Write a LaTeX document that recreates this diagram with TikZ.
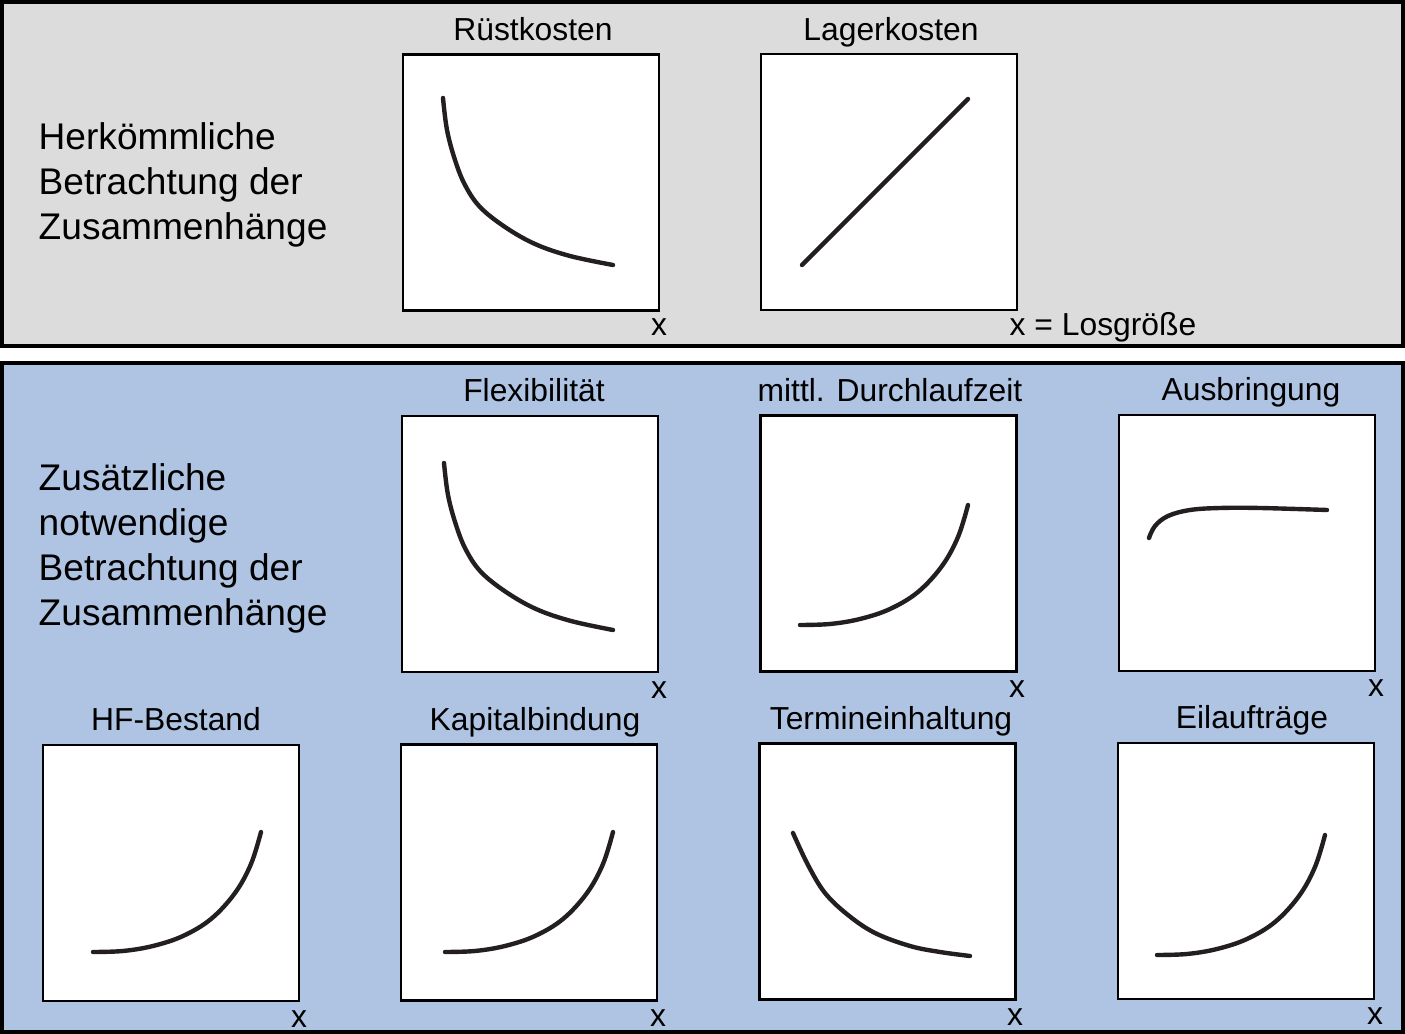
\documentclass[tikz,border=0pt]{standalone}
\usepackage{fontspec}
\setmainfont{Liberation Sans}
\definecolor{panelgray}{HTML}{DCDCDC}
\definecolor{panelblue}{HTML}{AFC3E2}
\definecolor{curveink}{HTML}{231F20}
\begin{document}
\begin{tikzpicture}[x=0.01cm,y=-0.01cm,
  panel/.style={draw=black,line width=1pt},
  plotbox/.style={draw=black,fill=white,line width=0.7pt,minimum width=2.56cm,minimum height=2.56cm,inner sep=0pt,outer sep=0pt},
  curve/.style={draw=curveink,line width=1.25pt,line cap=round,line join=round},
  title/.style={anchor=base,inner sep=0pt,font=\fontsize{9.05}{10.9}\selectfont},
  xlab/.style={anchor=base,inner sep=0pt,font=\fontsize{9.05}{10.9}\selectfont},
  lead/.style={anchor=north west,inner sep=0pt,align=left,font=\fontsize{10.55}{12.8}\selectfont}]
\useasboundingbox (0,0) rectangle (1405,1034);
% panels
\draw[panel,fill=panelgray] (2,2) rectangle (1403,346);
\draw[panel,fill=panelblue] (2,363) rectangle (1403,1032);
% left captions
\node[lead] (top) at (38,122) {Herkömmliche\\Betrachtung der\\Zusammenhänge};
\node[lead] (bot) at (38,463) {Zusätzliche\\notwendige\\Betrachtung der\\Zusammenhänge};
% plot boxes
\node[plotbox] (b1) at (531,182.5) {};
\node[plotbox] (b2) at (889,182) {};
\node[plotbox] (b3) at (530,544) {};
\node[plotbox] (b4) at (888.5,543.5) {};
\node[plotbox] (b5) at (1247,543) {};
\node[plotbox] (b6) at (171,873) {};
\node[plotbox] (b7) at (529,872.5) {};
\node[plotbox] (b8) at (887.5,871.5) {};
\node[plotbox] (b9) at (1246,871) {};
% titles
\node[title] (t1) at (533,41) {Rüstkosten};
\node[title] (t2) at (891,41) {Lagerkosten};
\node[title] (t3) at (534,402) {Flexibilität};
\node[title] (t4) at (890,402) {mittl. Durchlaufzeit};
\node[title] (t5) at (1251,401) {Ausbringung};
\node[title] (t6) at (176,731) {HF-Bestand};
\node[title] (t7) at (535,731) {Kapitalbindung};
\node[title] (t8) at (891,730) {Termineinhaltung};
\node[title] (t9) at (1252,729) {Eilaufträge};
% axis labels
\node[xlab] (x1) at (659,336) {x};
\node[xlab,anchor=base west] (x2) at (1009,336) {x = Losgröße};
\node[xlab] (x3) at (659,699) {x};
\node[xlab] (x4) at (1017,698) {x};
\node[xlab] (x5) at (1376,697) {x};
\node[xlab] (x6) at (299,1028) {x};
\node[xlab] (x7) at (658,1027) {x};
\node[xlab] (x8) at (1015,1026) {x};
\node[xlab] (x9) at (1375,1025) {x};
% curves
\draw[curve] plot[smooth,tension=0.6] coordinates {(443,98) (447,130) (455,160) (465,185) (480,207) (505,227) (535,244) (570,256) (613,265)};
\draw[curve] (802,265) -- (968,99);
\draw[curve] plot[smooth,tension=0.6] coordinates {(444,463) (448,495) (456,525) (466,550) (481,572) (506,592) (536,609) (571,621) (613,630)};
\draw[curve] plot[smooth,tension=0.6] coordinates {(800,625) (830,624) (860,619) (890,609) (918,592) (942,566) (958,537) (968,505)};
\draw[curve] plot[smooth,tension=0.6] coordinates {(1149,538) (1155,526) (1168,516) (1190,510) (1220,508) (1260,508) (1327,510)};
\begin{scope}[shift={(-707,327)}]
\draw[curve] plot[smooth,tension=0.6] coordinates {(800,625) (830,624) (860,619) (890,609) (918,592) (942,566) (958,537) (968,505)};
\end{scope}
\begin{scope}[shift={(-355,327)}]
\draw[curve] plot[smooth,tension=0.6] coordinates {(800,625) (830,624) (860,619) (890,609) (918,592) (942,566) (958,537) (968,505)};
\end{scope}
\begin{scope}[shift={(357,330)}]
\draw[curve] plot[smooth,tension=0.6] coordinates {(800,625) (830,624) (860,619) (890,609) (918,592) (942,566) (958,537) (968,505)};
\end{scope}
\draw[curve] plot[smooth,tension=0.6] coordinates {(793,833) (808,865) (825,893) (848,915) (875,933) (910,946) (940,952) (970,956)};
\end{tikzpicture}
\end{document}
